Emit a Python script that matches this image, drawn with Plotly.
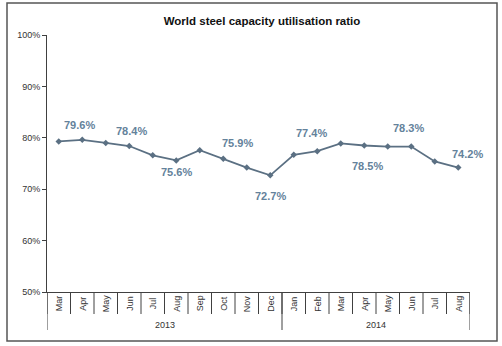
import plotly.graph_objects as go

years = ["2013", "2014"]
year_sizes = [10, 8]
months = ["Mar", "Apr", "May", "Jun", "Jul", "Aug", "Sep", "Oct", "Nov", "Dec",
          "Jan", "Feb", "Mar", "Apr", "May", "Jun", "Jul", "Aug"]
values = [79.3, 79.6, 79.0, 78.4, 76.6, 75.6, 77.6, 75.9, 74.2, 72.7,
          76.7, 77.4, 78.9, 78.5, 78.3, 78.3, 75.4, 74.2]
labelled = [1, 3, 5, 7, 9, 11, 13, 15, 17]
label_dy = [15, 15, -12, 16, -21, 18, -20, 19, 14]
label_dx = [-3, 2, 0, 14, 0, -6, 3, -3, 9]

y_ticks = [50, 60, 70, 80, 90, 100]

line_col = "#5b7083"
lab_col = "#64829b"
axis_col = "#404040"
txt_col = "#333333"
FONT = "Liberation Sans, Arial"

PLOT_H = 257  # px height of plot area
def py(px):  # pixel offset below the x axis -> paper coord
    return -px / PLOT_H

n = len(months)
xs = list(range(n))

fig = go.Figure()
fig.add_trace(go.Scatter(
    x=xs, y=values, mode="lines+markers",
    line=dict(color=line_col, width=1.8),
    marker=dict(symbol="diamond", size=5, color=line_col),
    hoverinfo="skip", showlegend=False))

for k, i in enumerate(labelled):
    fig.add_annotation(x=i, y=values[i], xref="x", yref="y",
                       text=f"<b>{values[i]:.1f}%</b>", showarrow=False,
                       yshift=label_dy[k], xshift=label_dx[k],
                       font=dict(family=FONT, size=11, color=lab_col))

# month labels and tick lines
for i, m in enumerate(months):
    fig.add_annotation(x=i, y=py(11.5), xref="x", yref="paper", text=m, textangle=-90,
                       xanchor="center", yanchor="middle",
                       showarrow=False, font=dict(family=FONT, size=9, color=txt_col))
for b in range(n + 1):
    fig.add_shape(type="line", xref="x", yref="paper", x0=b - 0.5, x1=b - 0.5,
                  y0=0, y1=py(22), line=dict(color=axis_col, width=1))

# year groups
start = 0
bounds = [start]
for yr, sz in zip(years, year_sizes):
    fig.add_annotation(x=start + (sz - 1) / 2, y=py(33), xref="x", yref="paper", text=yr,
                       xanchor="center", yanchor="middle",
                       showarrow=False, font=dict(family=FONT, size=9, color=txt_col))
    start += sz
    bounds.append(start)
for b in bounds:
    fig.add_shape(type="line", xref="x", yref="paper", x0=b - 0.5, x1=b - 0.5,
                  y0=0, y1=py(38), line=dict(color=axis_col, width=1))

fig.update_layout(
    width=502, height=346,
    margin=dict(l=47, r=32, t=35, b=54),
    paper_bgcolor="white", plot_bgcolor="white",
    title=dict(text="<b>World steel capacity utilisation ratio</b>", x=(262 - 47) / 423,
               xref="paper", xanchor="center", y=1 - 21 / 346, yanchor="middle",
               font=dict(family=FONT, size=11.5, color="#111111")),
    font=dict(family=FONT, size=9, color=txt_col),
)
fig.update_xaxes(range=[-0.5, n - 0.5], showticklabels=False, ticks="",
                 showline=True, linecolor=axis_col, linewidth=1,
                 showgrid=False, zeroline=False)
fig.update_yaxes(range=[50, 100], tickvals=y_ticks, ticktext=[f"{v}%" for v in y_ticks],
                 showline=True, linecolor=axis_col, linewidth=1, ticks="outside", ticklen=4,
                 tickcolor=axis_col, showgrid=False, zeroline=False,
                 tickfont=dict(size=9, color=txt_col))

fig.add_shape(type="rect", xref="paper", yref="paper",
              x0=(7 - 47) / 423, x1=(497 - 47) / 423,
              y0=(292 - 341) / 257, y1=(292 - 3) / 257,
              line=dict(color="#555555", width=1.5), fillcolor="rgba(0,0,0,0)")

fig.write_html("out.html")
